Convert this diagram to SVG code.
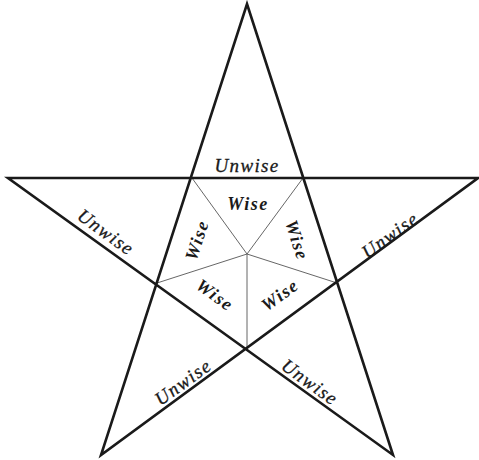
<svg xmlns="http://www.w3.org/2000/svg" width="479" height="460" viewBox="0 0 479 460">
<style>
.star{stroke:#1a1a1a;stroke-width:2.6;fill:none;stroke-linejoin:miter}
.thin{stroke:#555;stroke-width:0.9;fill:none}
.uw{font-family:"Liberation Serif",serif;font-style:italic;font-size:19px;letter-spacing:1.3px;fill:#1a1a1a;stroke:#1a1a1a;stroke-width:0.3;text-anchor:middle;dominant-baseline:central}
.w{font-family:"Liberation Serif",serif;font-style:italic;font-weight:bold;font-size:18px;letter-spacing:1.5px;fill:#1a1a1a;text-anchor:middle;dominant-baseline:central}
</style>
<rect width="479" height="460" fill="#fff"/>
<g id="connectors">
<line class="thin" x1="247" y1="254" x2="192" y2="178"/>
<line class="thin" x1="247" y1="254" x2="303" y2="178"/>
<line class="thin" x1="247" y1="254" x2="157" y2="283"/>
<line class="thin" x1="247" y1="254" x2="337" y2="283"/>
<line class="thin" x1="247" y1="254" x2="247" y2="349" stroke="#888"/>
<polygon class="star" points="247,4 393,455 8,178 478,178 101,455"/>
</g>
<g id="unwise-top"><text class="uw" x="247" y="165">Unwise</text></g>
<g id="unwise-left"><text class="uw" transform="translate(106,232) rotate(36)">Unwise</text></g>
<g id="unwise-right"><text class="uw" transform="translate(390,235) rotate(-36)">Unwise</text></g>
<g id="unwise-bl"><text class="uw" transform="translate(183,382) rotate(-36)">Unwise</text></g>
<g id="unwise-br"><text class="uw" transform="translate(310,382) rotate(36)">Unwise</text></g>
<g id="wise-top"><text class="w" x="248" y="204">Wise</text></g>
<g id="wise-left"><text class="w" transform="translate(197,240) rotate(-72)">Wise</text></g>
<g id="wise-right"><text class="w" transform="translate(297,240) rotate(72)">Wise</text></g>
<g id="wise-bl"><text class="w" transform="translate(215,295) rotate(36)">Wise</text></g>
<g id="wise-br"><text class="w" transform="translate(280,295) rotate(-36)">Wise</text></g>
</svg>
